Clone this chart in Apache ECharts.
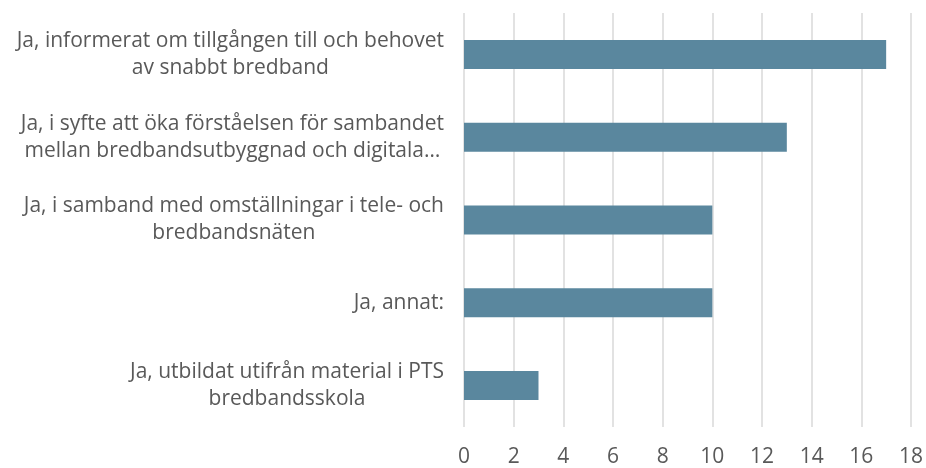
<!DOCTYPE html>
<html>
<head>
<meta charset="utf-8">
<script src="https://cdn.jsdelivr.net/npm/echarts@6/dist/echarts.min.js"></script>
<style>
  html, body { margin: 0; padding: 0; background: #fff; }
  #chart { width: 926px; height: 468px; }
</style>
</head>
<body>
<div id="chart"></div>
<script>
  // categories, top to bottom (each line of a label is one entry)
  const categories = [
    ['Ja, informerat om tillgången till och behovet', 'av snabbt bredband'],
    ['Ja, i syfte att öka förståelsen för sambandet', 'mellan bredbandsutbyggnad och digitala…'],
    ['Ja, i samband med omställningar i tele- och', 'bredbandsnäten'],
    ['Ja, annat:'],
    ['Ja, utbildat utifrån material i PTS', 'bredbandsskola']
  ];
  const values = [17, 13, 10, 10, 3];
  const xTicks = { min: 0, max: 18, interval: 2 };

  const textColor = '#595959';
  const font = '"Open Sans", "Noto Sans", sans-serif';

  const chart = echarts.init(document.getElementById('chart'));
  chart.setOption({
    animation: false,
    textStyle: { fontFamily: font },
    grid: { left: 464, right: 14, top: 13, bottom: 40 },
    xAxis: {
      type: 'value',
      min: xTicks.min,
      max: xTicks.max,
      interval: xTicks.interval,
      axisLine: { show: false },
      axisTick: { show: false },
      splitLine: { lineStyle: { color: '#d9d9d9', width: 1.5 } },
      axisLabel: { color: textColor, fontSize: 21, margin: 20, fontFamily: font }
    },
    yAxis: {
      type: 'category',
      inverse: true,
      data: categories.map(lines => lines.join('\n')),
      axisLine: { show: false },
      axisTick: { show: false },
      axisLabel: {
        margin: 20,
        color: textColor,
        fontSize: 21,
        lineHeight: 27,
        fontFamily: font,
        formatter: v => v.split('\n').map(l => '{c|' + l + '}').join('\n'),
        rich: {
          c: { align: 'center', color: textColor, fontSize: 21, lineHeight: 27, fontFamily: font }
        }
      }
    },
    series: [{
      type: 'bar',
      data: values,
      barWidth: 29,
      itemStyle: { color: '#5a879e' }
    }]
  });
</script>
</body>
</html>
